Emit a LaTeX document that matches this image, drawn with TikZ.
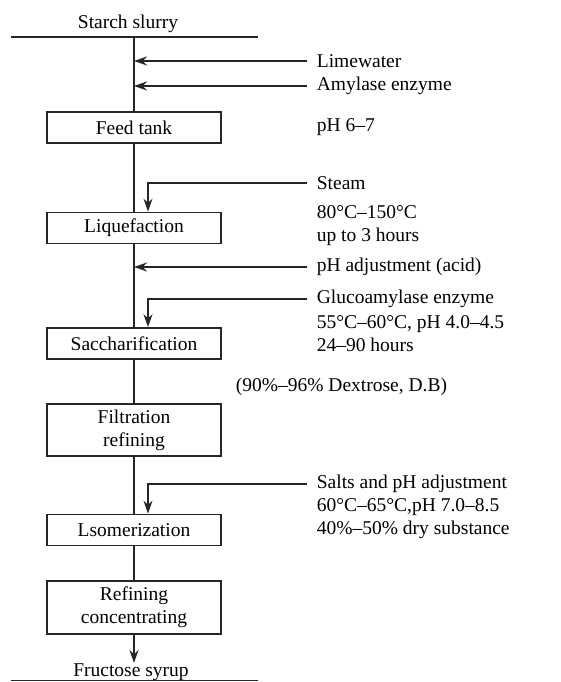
\documentclass[tikz,border=0pt]{standalone}
\usepackage{fontspec}
\setmainfont{Liberation Serif}
\usetikzlibrary{positioning}
\usetikzlibrary{arrows.meta}

\begin{document}
\begin{tikzpicture}[x=1pt,y=-1pt,
	line width=1.7pt,
	every node/.style={font=\fontsize{19.5}{23}\selectfont},
	flow/.style={draw=black!85,line width=1.7pt},
	feed arrow/.style={flow,-{Stealth[length=13pt,width=9pt]}},
	process box/.style={draw=black!85,line width=1.7pt,minimum width=174pt,minimum height=31pt,align=center,inner sep=0pt},
	side text/.style={anchor=west,inner sep=0pt,align=left}]
	
	\useasboundingbox (0,0) rectangle (561,682);
	
	\node[anchor=base] (starch) at (128,29) {Starch slurry};
	\coordinate (topl) at (11,37);
	\coordinate (topr) at (258,37);
	\coordinate (botl) at (11,680.5);
	\coordinate (botr) at (258,680.5);
	
	\node[process box] (feed) at (134,127.5) {Feed tank};
	\node[process box] (liq) at (134,228) {Liquefaction};
	\node[process box] (sacch) at (134,343.5) {Saccharification};
	\node[process box,minimum height=52pt] (filt) at (134,430) {Filtration\\refining};
	\node[process box] (isom) at (134,530) {Lsomerization};
	\node[process box,minimum height=53pt] (refine) at (134,607.5) {Refining\\concentrating};
	\node[anchor=north,inner sep=0pt] (fruc) at (131,663) {Fructose syrup};
	
	\node[side text] (lime) at (316,61) {Limewater};
	\node[side text] (amyl) at (316,86) {Amylase enzyme};
	\node[side text] (ph) at (316,127) {pH 6–7};
	\node[side text] (steam) at (316,183) {Steam};
	\node[side text] (liqcond) at (316,226) {80°C–150°C\\up to 3 hours};
	\node[side text] (acid) at (316,267) {pH adjustment (acid)};
	\node[side text] (gluco) at (316,299) {Glucoamylase enzyme};
	\node[side text] (saccond) at (316,334) {55°C–60°C, pH 4.0–4.5\\24–90 hours};
	\node[side text] (dex) at (235,387) {(90\%–96\% Dextrose, D.B)};
	\node[side text] (salts) at (316,484) {Salts and pH adjustment};
	\node[side text] (isocond) at (316,518.5) {60°C–65°C,pH 7.0–8.5\\40\%–50\% dry substance};
	
	% main line
	\draw[flow] (topl) -- (topr);
	\draw[flow] (botl) -- (botr);
	\draw[flow] (feed.north |- topl) -- (feed.north);
	\draw[flow] (feed.south) -- (liq.north);
	\draw[flow] (liq.south) -- (sacch.north);
	\draw[flow] (sacch.south) -- (filt.north);
	\draw[flow] (filt.south) -- (isom.north);
	\draw[flow] (isom.south) -- (refine.north);
	\draw[feed arrow] (refine.south) -- (refine.south |- fruc.north);
	
	% feeds
	\draw[feed arrow] ([xshift=-9pt]lime.west) -- (lime.west -| feed.north);
	\draw[feed arrow] ([xshift=-9pt]amyl.west) -- (amyl.west -| feed.north);
	\draw[feed arrow] ([xshift=-9pt]acid.west) -- (acid.west -| feed.north);
	\draw[feed arrow] ([xshift=-9pt]steam.west) -| ([xshift=14pt]liq.north);
	\draw[feed arrow] ([xshift=-9pt]gluco.west) -| ([xshift=14pt]sacch.north);
	\draw[feed arrow] ([xshift=-9pt]salts.west) -| ([xshift=14pt]isom.north);
\end{tikzpicture}
\end{document}
